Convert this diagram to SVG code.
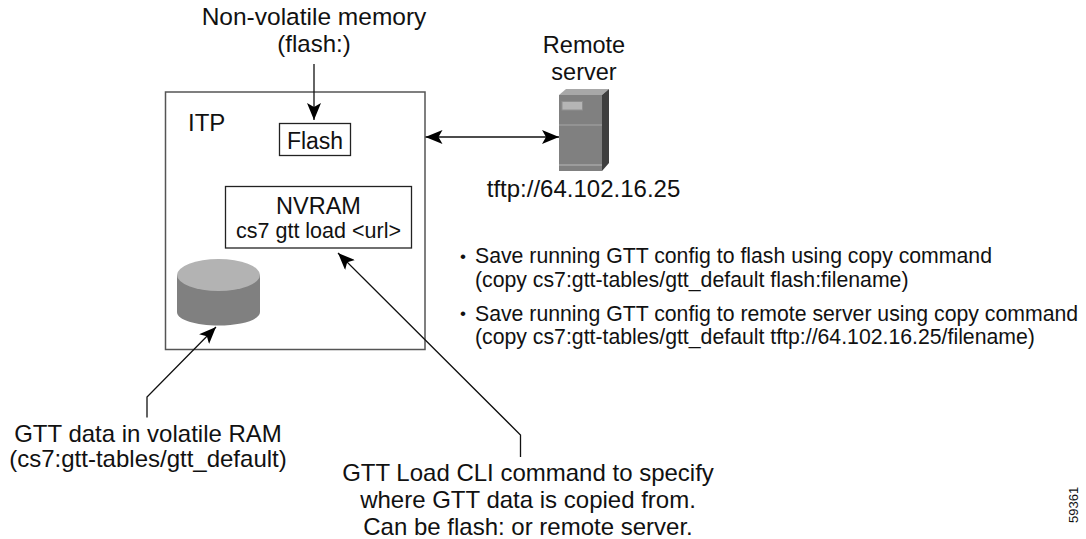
<svg xmlns="http://www.w3.org/2000/svg" width="1086" height="539" viewBox="0 0 1086 539">
<style>
text{font-family:"Liberation Sans",Arial,sans-serif;fill:#111}
.l{font-size:24px;text-anchor:middle}
.s{font-size:21.250px}
.d{font-size:17px}
.c{fill:none;stroke:#111;stroke-width:1.300}
.b{fill:#fff;stroke:#222;stroke-width:1.300}
</style>
<defs>
<marker id="a" viewBox="0 0 17 14" refX="17" refY="7" markerWidth="17" markerHeight="14" markerUnits="userSpaceOnUse" orient="auto-start-reverse"><path d="M0 0L17 7L0 14L4 7Z" fill="#000"/></marker>
</defs>
<rect width="1086" height="539" fill="#fff"/>
<g id="itp">
<rect x="165.500" y="92" width="259.500" height="257.500" fill="#fff" stroke="#555" stroke-width="1.500"/>
<text x="188" y="131" font-size="24">ITP</text>
</g>
<g id="flash">
<rect class="b" x="279.500" y="123.500" width="71" height="32"/>
<text class="l" x="315" y="149" style="font-size:23px">Flash</text>
</g>
<g id="nvram">
<rect class="b" x="225.500" y="186.500" width="186" height="61.500"/>
<text class="l" x="318.500" y="214" style="font-size:23.500px">NVRAM</text>
<text class="l" x="318.500" y="238" style="font-size:21.500px">cs7 gtt load &lt;url&gt;</text>
</g>
<g id="ram">
<path d="M177 275V312C177 320 196 325.500 218.500 325.500S260 320 260 312V275Z" fill="#808080"/>
<ellipse cx="218.500" cy="275" rx="41.500" ry="16" fill="#b3b3b3"/>
</g>
<g id="server">
<path d="M559 95L566 89H609L602 95Z" fill="#a8a8a8"/>
<rect x="559" y="95" width="43" height="76" fill="#808080"/>
<path d="M602 95L609 89V163L602 171Z" fill="#3f3f3f"/>
<rect x="562" y="101.500" width="20.500" height="8.500" fill="#b5b5b5" stroke="#8f8f8f"/>
<path d="M559 125H602" stroke="#a6a6a6" stroke-width="1"/>
<path d="M559 165H602" stroke="#a6a6a6" stroke-width="1.500"/>
<text class="l" x="584" y="53" style="font-size:23.500px">Remote</text>
<text class="l" x="584" y="80" style="font-size:23.500px">server</text>
<text class="l" x="583.500" y="197">tftp://64.102.16.25</text>
</g>
<g id="connectors">
<path class="c" d="M314 64V120" marker-end="url(#a)"/>
<path class="c" d="M425.500 137H559" marker-start="url(#a)" marker-end="url(#a)"/>
<path class="c" d="M147 417.500V397L216 327" marker-end="url(#a)"/>
<path class="c" d="M520.500 457V435L338 253" marker-end="url(#a)"/>
</g>
<g id="labels">
<text class="l" x="314" y="25" style="font-size:24.500px">Non-volatile memory</text>
<text class="l" x="314" y="52">(flash:)</text>
<text class="d" x="460" y="261.500">•</text>
<text class="s" x="475" y="263">Save running GTT config to flash using copy command</text>
<text class="s" x="475" y="287">(copy cs7:gtt-tables/gtt_default flash:filename)</text>
<text class="d" x="460" y="318.500">•</text>
<text class="s" x="475" y="321">Save running GTT config to remote server using copy command</text>
<text class="s" x="475" y="344">(copy cs7:gtt-tables/gtt_default tftp://64.102.16.25/filename)</text>
<text class="l" x="148" y="442">GTT data in volatile RAM</text>
<text class="l" x="148" y="467">(cs7:gtt-tables/gtt_default)</text>
<text class="l" x="528" y="481">GTT Load CLI command to specify</text>
<text class="l" x="528" y="508">where GTT data is copied from.</text>
<text class="l" x="528" y="535">Can be flash: or remote server.</text>
<text transform="translate(1078 523) rotate(-90)" font-size="13">59361</text>
</g>
</svg>
